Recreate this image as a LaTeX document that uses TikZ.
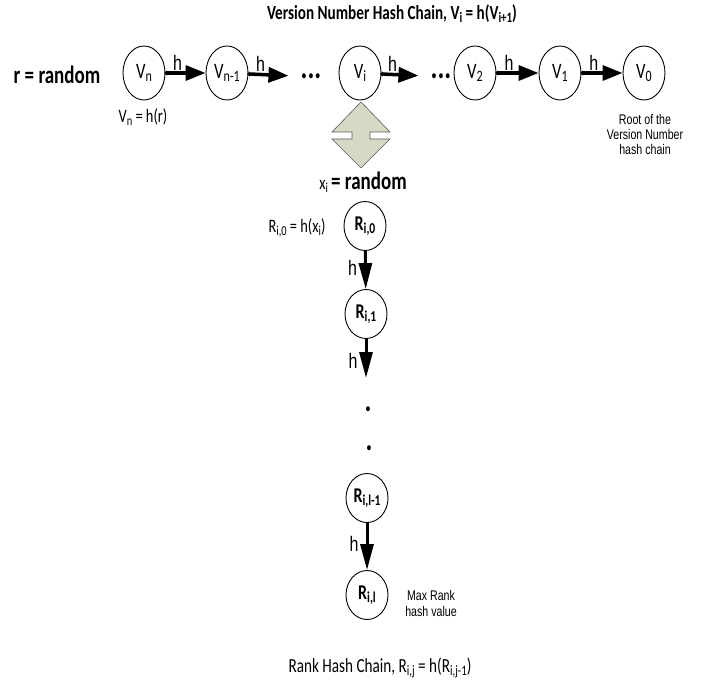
\documentclass[tikz,border=0pt]{standalone}
\usepackage{fontspec}
\usepackage{graphicx}
\setmainfont{Carlito}[FakeStretch=0.76]
\newfontfamily\arialf{Liberation Sans}[FakeStretch=0.76]
\usepackage{tikz}
\usetikzlibrary{arrows.meta,calc,positioning,shapes.geometric}
\newcommand{\sbs}[1]{\raisebox{-0.3ex}{\scalebox{0.72}{#1}}}
\newcommand{\fsz}[1]{\fontsize{#1}{#1}\selectfont}

\begin{document}
\begin{tikzpicture}[x=1pt,y=-1pt]
\tikzset{
  chain/.style={ellipse, draw, line width=0.9pt, minimum width=42pt, minimum height=54pt, inner sep=0pt, font=\fsz{22}},
  rchain/.style={chain, minimum height=49pt, font=\fsz{21}\bfseries},
  harrow/.style={line width=3.5pt, {Circle[length=4pt]}-{Triangle[length=20pt,width=15pt]}, shorten <=-1pt},
  varrow/.style={line width=3pt, -{Triangle[length=26pt,width=13pt]}},
  hlab/.style={font=\arialf\fsz{21}, inner sep=1pt},
  dots/.style={font=\fsz{34}\bfseries, inner xsep=12pt, inner ysep=0pt, anchor=base},
  vdot/.style={font=\fsz{34}\bfseries, inner sep=0pt, anchor=base},
  note/.style={font=\arialf\fsz{14}, align=center},
}
\useasboundingbox (0,0) rectangle (715,690);

% titles
\node[font=\fsz{20}\bfseries] (ttop) at (392,14) {Version Number Hash Chain, V\sbs{i} = h(V\sbs{i+1})};
\node[font=\fsz{20}] (tbot) at (380,668) {Rank Hash Chain, R\sbs{i,j} = h(R\sbs{i,j-1})};

% version number chain
\node[font=\fsz{25}\bfseries] (rnd) at (57,75) {r = random};
\node[chain] (vn) at (144,73) {V\sbs{n}};
\node[chain] (vn1) at (227,73) {V\sbs{n-1}};
\node[dots] (da) at (311,79) {...};
\node[chain] (vi) at (360,73) {V\sbs{i}};
\node[dots] (db) at (441,79) {...};
\node[chain] (v2) at (475,73) {V\sbs{2}};
\node[chain] (v1) at (560,73) {V\sbs{1}};
\node[chain] (v0) at (644,73) {V\sbs{0}};

\draw[harrow] (vn) -- node[hlab, pos=0.3, above] {h} (vn1);
\draw[harrow] (vn1) -- node[hlab, pos=0.3, above] {h} (da);
\draw[harrow] (vi) -- node[hlab, pos=0.3, above] {h} (db);
\draw[harrow] (v2) -- node[hlab, pos=0.3, above] {h} (v1);
\draw[harrow] (v1) -- node[hlab, pos=0.3, above] {h} (v0);

\node[font=\fsz{19}] (vnh) at (143,117) {V\sbs{n} = h(r)};
\node[note] (root) at (645,134) {Root of the\\[1pt]Version Number\\[1pt]hash chain};

% up-down arrow between the chains
\coordinate (ud) at (361,134);
\draw[draw=gray!70!black, fill={rgb,255:red,214;green,217;blue,197}, line width=0.6pt]
  ($(ud)+(0,-32)$) -- ($(ud)+(29,-2)$) -- ($(ud)+(9,-2)$) -- ($(ud)+(9,5)$)
  -- ($(ud)+(29,5)$) -- ($(ud)+(0,34)$) -- ($(ud)+(-29,5)$) -- ($(ud)+(-9,5)$)
  -- ($(ud)+(-9,-2)$) -- ($(ud)+(-29,-2)$) -- cycle;

% rank chain
\node (xi) at (363,182) {\fsz{19}x\sbs{i} \fsz{25}\bfseries= random};
\node[rchain] (r0) at (365,226) {R\sbs{i,0}};
\node[font=\fsz{19}] (r0h) at (297,228) {R\sbs{i,0} = h(x\sbs{i})};
\node[rchain] (r1) at (366,314) {R\sbs{i,1}};
\coordinate (r1end) at (366,378);
\node[vdot] (dta) at (368,411) {.};
\node[vdot] (dtb) at (369,450) {.};
\node[rchain] (rl1) at (367,498) {R\sbs{i,l-1}};
\node[rchain] (rl) at (367,595) {R\sbs{i,l}};
\node[note] (maxr) at (431,603) {Max Rank\\[2pt]hash value};

\draw[varrow] (r0) -- node[hlab, pos=0.45, left=6pt] {h} (r1);
\draw[varrow] (r1) -- node[hlab, pos=0.55, left=6pt] {h} (r1end);
\draw[varrow] (rl1) -- node[hlab, pos=0.45, left=6pt] {h} (rl);
\end{tikzpicture}
\end{document}
